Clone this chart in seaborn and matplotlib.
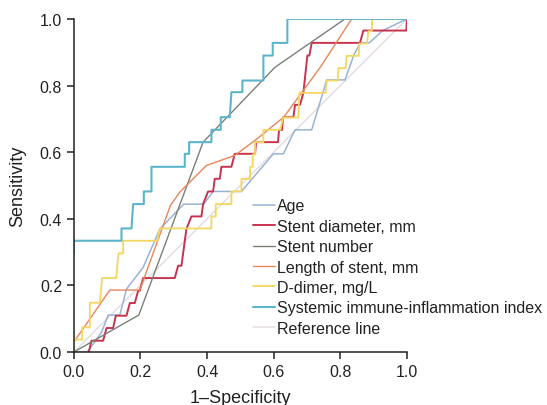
import numpy as np
import pandas as pd
import matplotlib
matplotlib.use("Agg")
import matplotlib.pyplot as plt
import seaborn as sns

# ROC curves (fpr, tpr pairs)
age_fpr = [0, 0.04, 0.058, 0.083, 0.103, 0.138, 0.158, 0.208, 0.258, 0.33, 0.39, 0.418, 0.503,
           0.599, 0.629, 0.664, 0.714, 0.739, 0.759, 0.814, 0.84, 0.86, 0.887, 0.927, 1.0]
age_tpr = [0, 0, 0.024, 0.059, 0.111, 0.111, 0.189, 0.254, 0.369, 0.444, 0.444, 0.482, 0.482,
           0.595, 0.595, 0.667, 0.667, 0.75, 0.817, 0.817, 0.89, 0.928, 0.928, 0.965, 1.0]

diam_fpr = [0.045, 0.053, 0.088, 0.098, 0.118, 0.126, 0.158, 0.168, 0.183, 0.193, 0.198, 0.208,
            0.303, 0.313, 0.323, 0.338, 0.353, 0.383, 0.388, 0.403, 0.418, 0.423, 0.438, 0.443,
            0.473, 0.483, 0.544, 0.547, 0.613, 0.616, 0.625, 0.628, 0.659, 0.664, 0.679, 0.689,
            0.701, 0.707, 0.714, 0.859, 0.869, 0.998, 1.0]
diam_tpr = [0, 0.034, 0.034, 0.072, 0.072, 0.109, 0.109, 0.147, 0.147, 0.184, 0.184, 0.222,
            0.222, 0.259, 0.259, 0.37, 0.407, 0.407, 0.444, 0.482, 0.482, 0.52, 0.52, 0.556,
            0.556, 0.595, 0.595, 0.63, 0.63, 0.667, 0.667, 0.705, 0.705, 0.742, 0.742, 0.778,
            0.89, 0.89, 0.928, 0.928, 0.965, 0.965, 1.0]

num_fpr = [0, 0.195, 0.388, 0.604, 0.814, 1.0]
num_tpr = [0, 0.111, 0.63, 0.855, 1.0, 1.0]

length_fpr = [0, 0.108, 0.198, 0.29, 0.318, 0.398, 0.483, 0.55, 0.63, 0.74, 0.834, 1.0]
length_tpr = [0.03, 0.186, 0.186, 0.44, 0.48, 0.56, 0.59, 0.64, 0.705, 0.855, 1.0, 1.0]

dd_fpr = [0, 0, 0.025, 0.025, 0.048, 0.048, 0.078, 0.085, 0.127, 0.134, 0.148, 0.148, 0.25,
          0.258, 0.413, 0.413, 0.426, 0.426, 0.473, 0.473, 0.503, 0.503, 0.529, 0.529, 0.537,
          0.537, 0.544, 0.544, 0.569, 0.569, 0.62, 0.628, 0.674, 0.677, 0.756, 0.759, 0.792,
          0.794, 0.816, 0.819, 0.855, 0.857, 0.88, 0.884, 0.894, 0.896, 1.0]
dd_tpr = [0, 0.037, 0.037, 0.074, 0.074, 0.148, 0.148, 0.222, 0.222, 0.296, 0.296, 0.334, 0.334,
          0.371, 0.371, 0.407, 0.407, 0.444, 0.444, 0.482, 0.482, 0.52, 0.52, 0.556, 0.556,
          0.593, 0.593, 0.63, 0.63, 0.667, 0.667, 0.704, 0.704, 0.778, 0.778, 0.815, 0.815,
          0.852, 0.852, 0.889, 0.889, 0.926, 0.926, 0.963, 0.963, 1.0, 1.0]

sii_fpr = [0, 0, 0.143, 0.143, 0.173, 0.178, 0.21, 0.21, 0.233, 0.233, 0.333, 0.333, 0.346, 0.346,
           0.413, 0.413, 0.441, 0.441, 0.468, 0.473, 0.506, 0.506, 0.569, 0.569, 0.597, 0.597,
           0.641, 0.641, 1.0]
sii_tpr = [0.297, 0.334, 0.334, 0.371, 0.371, 0.444, 0.444, 0.482, 0.482, 0.556, 0.556, 0.595,
           0.595, 0.63, 0.63, 0.667, 0.667, 0.705, 0.705, 0.78, 0.78, 0.815, 0.815, 0.89, 0.89,
           0.928, 0.928, 1.0, 1.0]

ref_fpr = [0, 1]
ref_tpr = [0, 1]

labels = ["Age", "Stent diameter, mm", "Stent number", "Length of stent, mm",
          "D-dimer, mg/L", "Systemic immune-inflammation index", "Reference line"]
curves = [(age_fpr, age_tpr), (diam_fpr, diam_tpr), (num_fpr, num_tpr),
          (length_fpr, length_tpr), (dd_fpr, dd_tpr), (sii_fpr, sii_tpr), (ref_fpr, ref_tpr)]
colors = ["#98b3d8", "#c8344f", "#7b8077", "#e8865a", "#f5d65e", "#5cb6cb", "#e6dde2"]
widths = [1.1, 1.4, 1.0, 1.0, 1.3, 1.5, 1.1]

sns.set_style("ticks")
plt.rcParams["font.family"] = ["Liberation Sans", "DejaVu Sans"]

fig = plt.figure(figsize=(5.47, 4.06), dpi=100)
ax = fig.add_axes([0.135, 0.1305, 0.609, 0.8205])

# reference drawn first so it sits underneath, legend order kept separately
order = [6, 0, 1, 2, 3, 4, 5]
handles = {}
for i in order:
    fx, ty = curves[i]
    df = pd.DataFrame({"fpr": fx, "tpr": ty})
    sns.lineplot(data=df, x="fpr", y="tpr", sort=False, estimator=None, ax=ax,
                 color=colors[i], linewidth=widths[i], label=labels[i])
    handles[i] = ax.get_lines()[-1]

ax.set_xlim(0, 1)
ax.set_ylim(0, 1)
ticks = [0.0, 0.2, 0.4, 0.6, 0.8, 1.0]
ax.set_xticks(ticks)
ax.set_yticks(ticks)
ax.set_xticklabels([f"{t:.1f}" for t in ticks])
ax.set_yticklabels([f"{t:.1f}" for t in ticks])
ax.tick_params(axis="both", direction="out", length=5, width=1.1, labelsize=11.5,
               color="#222222", labelcolor="#222222")
for s in ["left", "bottom"]:
    ax.spines[s].set_linewidth(1.1)
    ax.spines[s].set_color("#222222")
sns.despine(ax=ax)

ax.set_xlabel("1\u2013Specificity", fontsize=13, labelpad=7, color="#222222")
ax.set_ylabel("Sensitivity", fontsize=13, labelpad=10, color="#222222")

leg = ax.legend([handles[i] for i in range(7)], labels, loc="upper left",
                bbox_to_anchor=(0.462, 0.509), bbox_transform=fig.transFigure,
                frameon=False, fontsize=11.5, handlelength=1.4, handletextpad=0.1,
                labelspacing=0.34, borderpad=0, borderaxespad=0)
for t in leg.get_texts():
    t.set_color("#222222")

fig.savefig("out.png", dpi=100)
